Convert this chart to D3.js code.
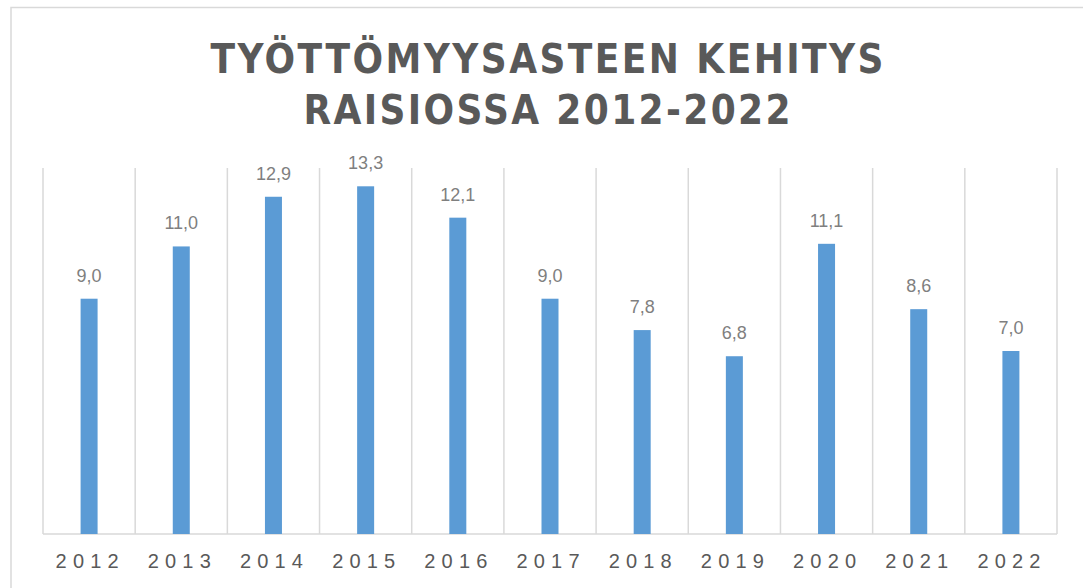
<!DOCTYPE html>
<html>
<head>
<meta charset="utf-8">
<script src="https://cdn.jsdelivr.net/npm/d3@7"></script>
<style>
  body { margin: 0; background: #fff; }
  svg { display: block; }
</style>
</head>
<body>
<div id="chart"></div>
<script>
// data
var years = ["2012","2013","2014","2015","2016","2017","2018","2019","2020","2021","2022"];
var rates = [9.0, 11.0, 12.9, 13.3, 12.1, 9.0, 7.8, 6.8, 11.1, 8.6, 7.0];
var titleLines = ["TYÖTTÖMYYSASTEEN KEHITYS", "RAISIOSSA 2012-2022"];

var W = 1083, H = 588;
var margin = {top: 168, right: 26, bottom: 54, left: 43};
var width = W - margin.left - margin.right;
var height = H - margin.top - margin.bottom;

var svg = d3.select("#chart").append("svg")
	.attr("width", W)
	.attr("height", H);

// outer frame of the chart object
svg.append("path")
	.attr("d", "M11," + H + "V7.5H" + W)
	.attr("fill", "none")
	.attr("stroke", "#d9d9d9")
	.attr("stroke-width", 1.5);

// title, two lines, spaced out
var titleWidths = [673, 487];
svg.selectAll(".title")
	.data(titleLines)
	.enter()
	.append("text")
		.attr("class", "title")
		.attr("x", 547)
		.attr("y", function(d, i) { return 73 + i * 51; })
		.attr("text-anchor", "middle")
		.attr("textLength", function(d, i) { return titleWidths[i]; })
		.attr("lengthAdjust", "spacing")
		.style("font-family", "'DejaVu Sans Condensed', 'DejaVu Sans', sans-serif")
		.style("font-stretch", "condensed")
		.style("font-weight", "bold")
		.style("font-size", "40px")
		.style("fill", "#595959")
		.text(function(d) { return d; });

var g = svg.append("g")
	.attr("transform", "translate(" + margin.left + "," + margin.top + ")");

var x = d3.scaleBand().domain(years).range([0, width]).paddingInner(0).paddingOuter(0);
var y = d3.scaleLinear().domain([0, 14]).range([height, 0]);

// vertical category separators
var sepX = d3.range(years.length + 1).map(function(i) { return i * x.step(); });
g.selectAll(".sep")
	.data(sepX)
	.enter()
	.append("line")
		.attr("x1", function(d) { return d; })
		.attr("x2", function(d) { return d; })
		.attr("y1", 0)
		.attr("y2", height)
		.attr("stroke", "#d9d9d9")
		.attr("stroke-width", 1.5);

// base line
g.append("line")
	.attr("x1", 0).attr("x2", width)
	.attr("y1", height).attr("y2", height)
	.attr("stroke", "#d9d9d9")
	.attr("stroke-width", 1.5);

var barW = 17;
g.selectAll(".bar")
	.data(rates)
	.enter()
	.append("rect")
		.attr("class", "bar")
		.attr("x", function(d, i) { return x(years[i]) + x.bandwidth() / 2 - barW / 2; })
		.attr("y", function(d) { return y(d); })
		.attr("width", barW)
		.attr("height", function(d) { return height - y(d); })
		.style("fill", "#5b9bd5");

var fmt = function(v) { return v.toFixed(1).replace(".", ","); };
g.selectAll(".lbl")
	.data(rates)
	.enter()
	.append("text")
		.attr("x", function(d, i) { return x(years[i]) + x.bandwidth() / 2; })
		.attr("y", function(d) { return y(d) - 17; })
		.attr("text-anchor", "middle")
		.style("font", "18px 'Liberation Sans', Arial, sans-serif")
		.style("fill", "#7f7f7f")
		.text(fmt);

// year labels, spaced out like the original
g.selectAll(".yr")
	.data(years)
	.enter()
	.append("text")
		.attr("x", function(d) { return x(d) + x.bandwidth() / 2 - 2; })
		.attr("y", height + 34)
		.attr("text-anchor", "middle")
		.attr("textLength", 63)
		.attr("lengthAdjust", "spacing")
		.style("font", "20px 'Liberation Sans', Arial, sans-serif")
		.style("fill", "#595959")
		.text(function(d) { return d; });
</script>
</body>
</html>
